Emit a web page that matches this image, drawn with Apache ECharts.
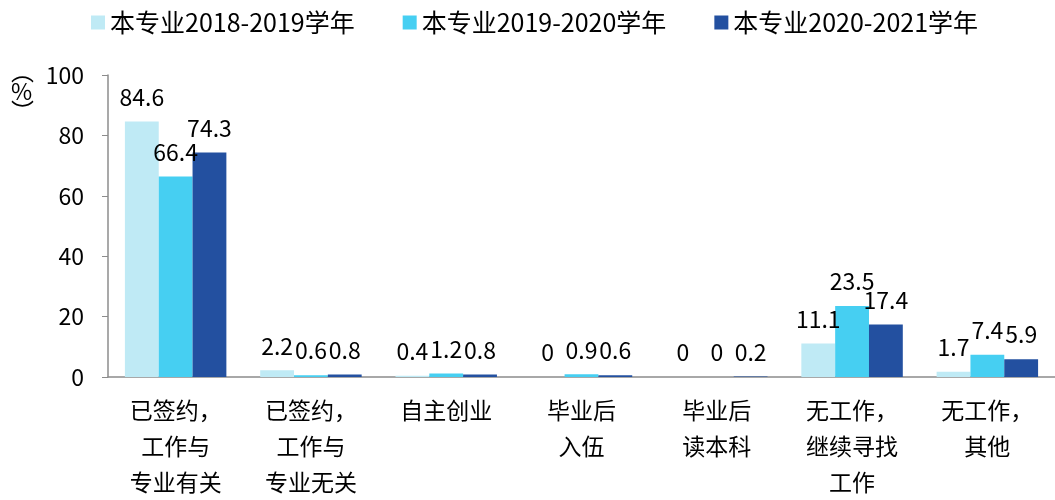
<!DOCTYPE html>
<html><head><meta charset="utf-8">
<script src="https://cdn.jsdelivr.net/npm/echarts@6/dist/echarts.min.js"></script>
<style>html,body{margin:0;padding:0;background:#fff}#c{width:1055px;height:500px}</style>
</head><body><div id="c"></div>
<script>
const categories = ['已签约，\n工作与\n专业有关','已签约，\n工作与\n专业无关','自主创业','毕业后\n入伍','毕业后\n读本科','无工作，\n继续寻找\n工作','无工作，\n其他'];
const seriesNames = ['本专业2018-2019学年','本专业2019-2020学年','本专业2020-2021学年'];
const s2018 = [84.6, 2.2, 0.4, 0, 0, 11.1, 1.7];
const s2019 = [66.4, 0.6, 1.2, 0.9, 0, 23.5, 7.4];
const s2020 = [74.3, 0.8, 0.8, 0.6, 0.2, 17.4, 5.9];
const yTicks = [0, 20, 40, 60, 80, 100];
const colors = ['#BFEAF5', '#46CFF2', '#2350A0'];
const FONT = "'Noto Sans CJK SC', sans-serif";

const chart = echarts.init(document.getElementById('c'));
const mk = (name, data, i) => ({
  name, type: 'bar', data, barGap: '0%', barCategoryGap: '25%',
  itemStyle: {color: colors[i]},
  label: {show: true, position: 'top', distance: 13, color: '#000', fontSize: 23, fontFamily: FONT}
});
chart.setOption({
  animation: false,
  color: colors,
  legend: {
    top: 5, left: 86, itemWidth: 14, itemHeight: 14, itemGap: 48,
    icon: 'rect',
    textStyle: {fontSize: 25, fontFamily: FONT, color: '#000'},
    data: seriesNames
  },
  grid: {left: 108, right: -4, top: 75, bottom: 120, containLabel: false},
  xAxis: {
    type: 'category', data: categories,
    axisLine: {lineStyle: {color: '#8c8c8c', width: 1.5}},
    axisTick: {inside: true, length: 6, lineStyle: {color: '#8c8c8c'}},
    axisLabel: {fontSize: 23, fontFamily: FONT, color: '#000', lineHeight: 36, margin: 15, interval: 0}
  },
  yAxis: {
    type: 'value', min: yTicks[0], max: yTicks[yTicks.length-1], interval: 20,
    axisLine: {show: true, lineStyle: {color: '#8c8c8c', width: 1.5}},
    axisTick: {show: true, length: 6, lineStyle: {color: '#8c8c8c'}},
    splitLine: {show: false},
    axisLabel: {fontSize: 23, fontFamily: FONT, color: '#000', margin: 24}
  },
  graphic: [{
    type: 'text', left: 11, top: 60,
    style: {text: '︵\n%\n︶', fontSize: 23, lineHeight: 20, fontFamily: FONT, fill: '#000', align: 'center'}
  }],
  series: [mk(seriesNames[0], s2018, 0), mk(seriesNames[1], s2019, 1), mk(seriesNames[2], s2020, 2)]
});
</script></body></html>
